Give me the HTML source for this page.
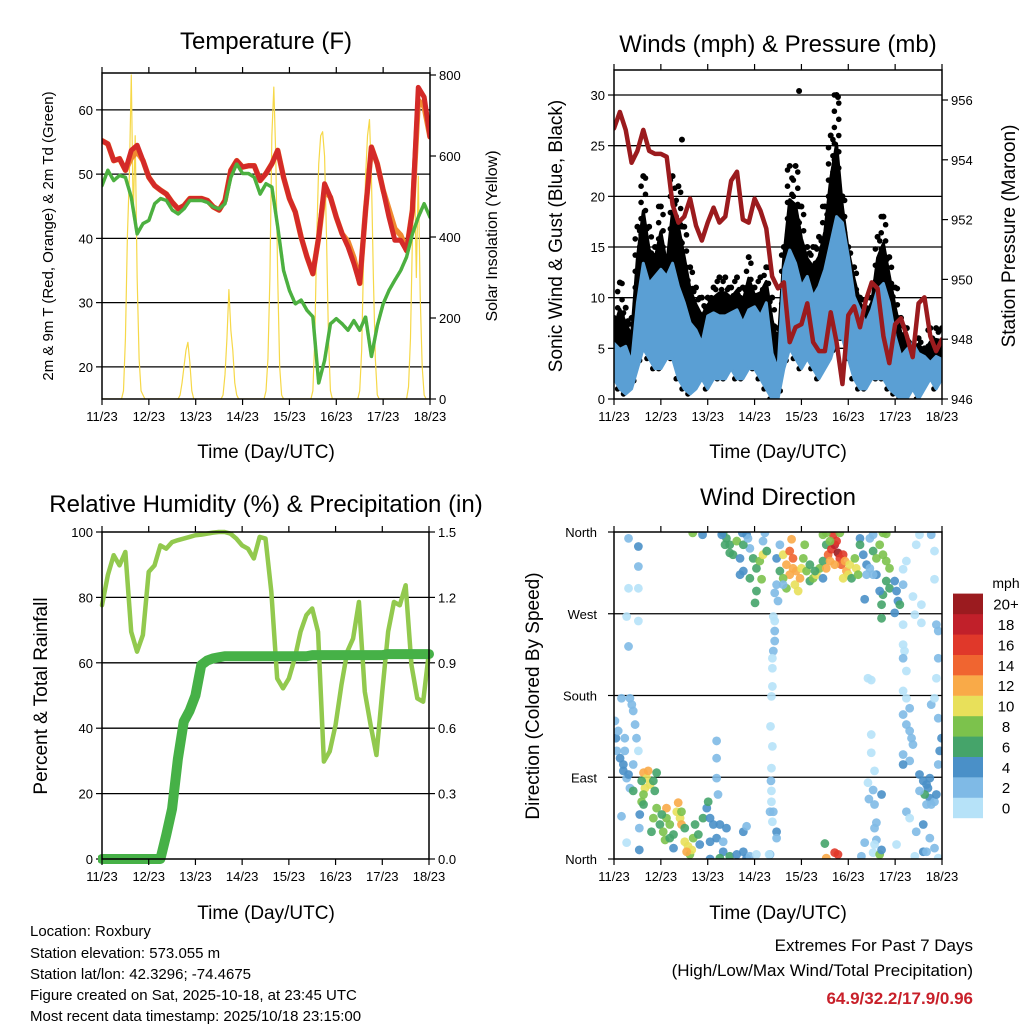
<!DOCTYPE html>
<html><head><meta charset="utf-8"><style>
html,body{margin:0;padding:0;background:#fff;}
svg{display:block;font-family:"Liberation Sans",Arial,sans-serif;}
</style></head><body>
<svg id="chart" width="1024" height="1024" viewBox="0 0 1024 1024" xmlns="http://www.w3.org/2000/svg">
<defs>
<clipPath id="c1"><rect x="102" y="73" width="328" height="326"/></clipPath>
<clipPath id="c2"><rect x="614" y="70" width="328" height="329"/></clipPath>
<clipPath id="c3"><rect x="98" y="528" width="336" height="336"/></clipPath>
<clipPath id="c4"><rect x="614" y="532" width="328" height="327"/></clipPath>
</defs>
<rect x="0" y="0" width="1024" height="1024" fill="#fff"/>
<text x="266" y="49" font-size="24" text-anchor="middle">Temperature (F)</text>
<text x="778" y="52" font-size="24" text-anchor="middle">Winds (mph) &amp; Pressure (mb)</text>
<text x="266" y="512" font-size="24" text-anchor="middle">Relative Humidity (%) &amp; Precipitation (in)</text>
<text x="778" y="505" font-size="24" text-anchor="middle">Wind Direction</text>
<text transform="translate(53,236) rotate(-90)" font-size="15" text-anchor="middle">2m &amp; 9m T (Red, Orange) &amp; 2m Td (Green)</text>
<text transform="translate(497,236) rotate(-90)" font-size="16" text-anchor="middle">Solar Insolation (Yellow)</text>
<text transform="translate(562,236) rotate(-90)" font-size="19" text-anchor="middle">Sonic Wind &amp; Gust (Blue, Black)</text>
<text transform="translate(1015,236) rotate(-90)" font-size="19" text-anchor="middle">Station Pressure (Maroon)</text>
<text transform="translate(47,696) rotate(-90)" font-size="19" text-anchor="middle">Percent &amp; Total Rainfall</text>
<text transform="translate(539,696) rotate(-90)" font-size="19" text-anchor="middle">Direction (Colored By Speed)</text>
<text x="266" y="458" font-size="19" text-anchor="middle">Time (Day/UTC)</text>
<text x="778" y="458" font-size="19" text-anchor="middle">Time (Day/UTC)</text>
<text x="266" y="919" font-size="19" text-anchor="middle">Time (Day/UTC)</text>
<text x="778" y="919" font-size="19" text-anchor="middle">Time (Day/UTC)</text>
<g font-size="15">
<text x="30" y="936">Location: Roxbury</text>
<text x="30" y="958">Station elevation: 573.055 m</text>
<text x="30" y="979">Station lat/lon: 42.3296; -74.4675</text>
<text x="30" y="1000">Figure created on Sat, 2025-10-18, at 23:45 UTC</text>
<text x="30" y="1021">Most recent data timestamp: 2025/10/18 23:15:00</text>
</g>
<text x="973" y="951" font-size="17" text-anchor="end">Extremes For Past 7 Days</text>
<text x="973" y="976" font-size="17" text-anchor="end">(High/Low/Max Wind/Total Precipitation)</text>
<text x="973" y="1004" font-size="17" font-weight="bold" fill="#c8202a" text-anchor="end">64.9/32.2/17.9/0.96</text>
<text x="1006" y="588" font-size="14" text-anchor="middle">mph</text>
</svg>
<script>
// ---------- data ----------
const dayLabels=["11/23","12/23","13/23","14/23","15/23","16/23","17/23","18/23"];
const tempRed=[55.2,54.7,52.1,52.4,50.6,53.7,54.5,52.1,49.5,48.2,47.5,46.9,45.6,44.6,45.1,46.2,46.2,46.2,45.9,44.9,44.4,45.9,50.6,52.1,51.1,51.3,51.3,49.0,50.1,51.6,53.7,49.5,46.2,44.1,40.2,37.1,34.5,40.2,48.5,46.4,43.3,40.7,38.7,36.1,33.0,44.4,54.2,51.6,47.5,43.3,39.7,39.7,38.1,44.4,63.5,62.0,55.8];
const tempOrange=[55.2,54.7,52.1,52.4,50.6,52.5,53.5,52.1,49.5,48.2,47.5,46.9,45.6,44.6,45.1,46.2,46.2,46.2,45.9,44.9,44.4,45.9,50.6,52.1,51.1,51.3,51.3,49.0,50.1,51.6,53.7,49.5,46.2,44.1,40.2,37.1,34.5,40.2,47.5,46.4,43.3,40.7,39.5,37.0,33.0,44.4,54.2,51.6,47.5,44.5,41.5,40.5,38.1,44.4,61.5,60.5,55.8];
const dewGreen=[48.2,50.6,49.0,49.8,49.5,46.4,40.7,42.3,42.8,45.4,46.2,45.9,44.4,43.8,44.6,45.9,45.9,45.9,45.6,44.9,44.6,45.4,49.5,51.6,50.1,50.1,49.5,46.9,48.5,48.0,41.8,35.0,31.9,29.8,30.4,28.8,27.8,17.5,21.0,26.7,27.5,26.7,25.7,27.2,25.7,27.8,21.6,26.4,29.8,31.9,33.5,35.0,37.1,40.7,43.3,45.4,43.3];
const solarDay0=[0,0,0,0,0,0,0,0,0,0,0,20,150,400,550,800,450,650,300,100,20,10,0,0];
const solarDay1=[0,0,0,0,0,0,0,0,0,0,0,0,0,0,0,0,10,40,80,120,140,90,20,0];
const solarDay2=[0,0,0,0,0,0,0,0,0,0,0,0,0,0,10,60,150,270,170,120,40,10,0,0];
const solarDay3=[0,0,0,0,0,0,0,0,0,0,0,0,20,100,300,650,770,600,300,80,10,0,0,0];
const solarDay4=[0,0,0,0,0,0,0,0,0,0,0,0,20,150,400,580,650,660,600,400,150,20,0,0];
const solarDay5=[0,0,0,0,0,0,0,0,0,0,0,0,20,120,350,550,650,690,550,300,100,10,0,0];
const solarDay6=[0,0,0,0,0,0,0,0,0,0,0,0,0,30,150,400,590,300,550,250,80,10,0,0];
const windLow=[2,1,0.5,1,3,5,4,3,3,4,4,2,1,0.5,1,2,1,2,2,2,3,2,2,3,3,2,1,0,0,3,5,4,3,4,3,2,3,4,6,6,4,2,1,1,2,2,2,1,0.5,0,0,1,0,1,2,1,2];
const windHigh=[5.5,4.9,5.2,3.6,9.5,13.4,11.4,12.1,12.8,12.1,13.4,11.1,9.5,7.5,6.8,5.5,8.2,8.5,8.2,8.2,8.5,8.8,7.5,8.8,9.1,8.2,9.5,4.5,2.9,12.8,14.7,13.4,11.1,12.1,10.1,11.1,12.8,15.4,18.0,17.4,14.1,10.1,8.8,7.5,8.8,10.8,11.4,9.5,6.2,4.2,4.9,5.5,4.5,4.2,3.6,4.2,3.9];
const gustMax=[8,11.5,9,8,17,22,17,15,19,14,22,21,17,13,11,10,10,11,12,12,11,12,11,14,11,12,13,10,7,15,23,23,19,15,15,16,19,26,30,20,15,13,10,9,10,16,18,14,11,8,7,5,6,5,7,7,7];
const gustExtraDays=[3.95,1.45,4.78];
const gustExtraVals=[30.4,25.6,29.8];
const pressure=[955.05,955.6,955.0,953.9,954.3,955.0,954.3,954.2,954.2,954.1,952.5,951.9,952.1,952.7,951.8,951.3,951.9,952.4,951.9,952.1,953.3,953.6,952.0,951.9,952.7,952.3,951.7,950.1,949.7,949.9,947.9,948.4,948.5,949.2,947.9,947.6,947.6,948.9,947.9,946.5,948.8,949.1,948.4,949.3,949.9,949.7,948.1,947.2,948.5,948.7,948.1,947.4,949.2,949.4,948.1,947.6,948.0];
const humidity=[77.6,86.8,92.9,89.8,93.9,69.5,63.4,68.5,87.8,89.8,95.9,94.9,96.9,97.5,98.0,98.5,99.0,99.2,99.5,99.8,100,100,99.5,98.0,95.9,94.9,91.9,98.5,98.0,81.7,55.2,52.2,55.2,61.3,69.5,74.6,76.6,69.5,29.8,32.9,41.0,53.2,63.4,67.4,78.6,51.2,41.0,31.8,51.2,69.5,78.6,77.6,83.7,59.3,49.1,48.1,63.4];
const precip=[0,0,0,0,0,0,0,0,0,0,0,0.11,0.23,0.46,0.63,0.68,0.75,0.89,0.91,0.92,0.925,0.93,0.93,0.93,0.93,0.93,0.93,0.93,0.93,0.93,0.93,0.93,0.93,0.93,0.93,0.93,0.935,0.935,0.935,0.935,0.935,0.935,0.935,0.935,0.935,0.935,0.935,0.935,0.935,0.94,0.94,0.94,0.94,0.94,0.94,0.94,0.94];
const dirDays=[0.02,0.04,0.06,0.13,0.20,0.23,0.16,0.34,0.41,0.45,0.48,0.20,0.27,0.34,0.41,0.31,0.52,0.09,0.23,0.38,0.27,0.16,0.54,0.54,0.31,0.52,0.52,0.31,0.52,0.27,0.52,0.31,
0.63,0.70,0.66,0.63,0.77,0.73,0.59,0.84,0.91,0.87,0.41,0.59,0.55,0.63,
0.84,0.91,0.98,1.05,1.12,1.12,1.19,1.27,1.34,1.37,1.41,1.44,1.44,1.51,1.09,1.19,1.02,0.80,1.27,1.51,1.58,1.62,1.69,1.73,1.80,1.83,1.66,1.55,
1.90,1.98,2.01,2.05,2.12,2.19,2.05,2.19,2.19,2.19,2.22,2.26,2.33,2.40,2.33,2.05,2.26,2.47,2.62,2.76,2.83,2.90,2.76,2.83,3.04,3.33,
2.33,2.40,2.47,2.54,2.62,2.69,2.76,2.83,2.90,2.97,3.04,3.11,3.18,3.04,3.01,2.90,2.69,3.18,3.26,3.15,2.37,2.47,2.76,2.86,3.22,2.30,
3.47,3.54,3.61,3.68,3.75,3.79,3.82,3.75,3.86,3.89,3.93,4.00,4.04,4.07,3.97,4.11,3.47,3.43,3.50,3.61,3.68,3.82,3.61,3.54,
4.18,4.25,4.32,4.39,4.46,4.18,4.29,4.46,4.53,4.46,
4.57,4.64,4.71,4.75,4.78,4.82,4.89,4.85,4.93,4.96,5.03,5.00,4.89,4.71,4.61,4.53,4.68,4.53,4.61,4.82,5.07,5.14,5.17,5.21,
5.25,5.25,5.32,5.39,5.39,5.46,5.46,5.53,5.60,5.67,5.74,5.81,5.88,5.81,5.88,5.74,5.71,5.67,5.71,5.99,6.03,6.06,5.99,6.10,5.60,5.53,5.74,5.35,5.53,
6.17,6.20,6.17,6.24,6.17,6.24,6.31,6.17,6.24,6.31,6.35,6.38,6.17,6.31,6.17,6.52,6.60,6.67,6.70,6.74,6.74,6.63,6.52,6.67,6.77,6.84,6.88,6.24,6.31,6.45,6.60,6.74,6.42,6.60,6.84,6.92,6.95,6.99,6.92,6.77,6.88,6.92,6.88,6.92,6.42,6.56,6.17,6.24,6.45,6.52,6.77,6.84,6.84,6.56,6.38,6.17,6.17,6.84,6.03,6.92,6.67,
3.40,3.43,3.43,3.43,3.40,3.38,3.38,3.38,3.36,3.34,3.38,3.36,3.35,3.36,3.36,3.40,3.38,3.47,3.47,3.31,3.33,
5.42,5.49,5.49,5.49,5.56,5.42,5.53,5.44,5.56,5.71,5.60,5.56,5.60,5.56,5.53,5.67,5.71,5.35,5.28,
4.50,4.53,4.71,4.78,1.68,1.89,2.74,5.81];
const dirDegs=[152,133,119,111,104,119,177,177,163,148,133,97,89,78,104,93,119,141,133,170,18,47,10,34,353,344,322,298,298,267,262,234,
95,89,78,71,82,97,86,86,95,75,75,63,49,60,
45,56,38,30,45,56,38,27,52,62,45,38,52,34,21,23,49,30,12,19,14,5,23,38,27,16,10,8,
45,56,63,45,38,23,19,111,130,89,71,38,19,34,8,0,1,3,5,8,1,3,30,36,5,5,
359,353,346,335,350,331,317,357,342,331,320,328,335,295,282,309,313,350,339,308,346,337,346,353,359,357,
331,317,335,324,339,352,331,313,302,317,295,320,331,346,309,317,302,293,284,309,298,320,302,346,
306,309,313,320,328,324,317,357,346,309,
335,341,346,350,337,331,335,324,328,317,324,313,309,324,328,320,357,359,350,359,309,331,320,313,
353,346,335,324,313,353,320,339,331,346,335,328,320,306,298,291,280,295,265,306,295,284,271,280,313,357,359,286,313,
236,229,221,207,185,177,166,159,148,141,133,126,115,108,104,93,86,82,78,89,67,71,75,60,60,63,71,52,45,30,38,23,3,8,12,104,119,133,155,170,199,221,258,251,269,260,258,328,346,357,357,339,308,280,289,302,319,177,16,1,8,
267,262,251,240,229,221,210,190,179,146,124,100,86,75,63,52,41,30,23,5,52,
199,197,137,117,97,84,76,66,60,71,40,34,21,16,7,5,10,18,3,
17,1,7,5,359,357,359,358];
const dirSpeeds=[2,4,3,4,4,2,2,2,2,2,3,5,3,2,3,4,1,2,3,2,1,2,4,2,2,4,2,1,1,1,1,3,
12,11,10,9,10,12,6,6,6,6,6,8,4,7,
8,8,7,8,9,12,8,7,10,12,11,13,9,7,8,6,7,6,4,10,10,9,8,6,6,5,11,12,
6,5,6,4,4,4,4,3,2,2,2,4,3,5,4,4,6,6,4,4,4,3,4,3,1,2,
6,7,6,6,8,5,4,4,3,7,6,8,10,6,6,7,4,3,6,8,6,6,6,3,3,5,
4,6,10,12,14,12,14,12,11,12,10,10,8,9,13,8,3,3,3,8,8,13,2,2,
6,8,10,8,7,7,6,8,7,4,
14,16,18,16,20,17,16,14,13,12,10,10,11,13,12,13,16,8,9,8,6,8,10,8,
4,6,4,4,3,3,2,6,8,8,9,8,8,7,6,6,6,4,6,4,5,5,4,6,4,2,8,4,3,
1,1,3,1,1,1,2,3,2,2,3,2,3,2,4,4,4,4,5,4,4,6,3,3,2,2,4,2,1,3,4,2,1,4,2,3,4,4,2,3,1,2,2,2,1,1,1,1,1,1,3,1,1,1,1,2,1,1,1,1,2,
1,1,2,3,3,1,1,1,1,1,1,1,2,1,1,2,1,4,3,1,3,
1,1,1,1,1,1,3,3,2,4,2,3,2,1,1,8,4,2,2,
6,12,16,17,8,4,4,8];
const speedBinLabels=["0","2","4","6","8","10","12","14","16","18","20+"];
const speedColors=["#b6e2f8","#7fbae6","#4a90c8","#45a46a","#7cc24c","#e8e05a","#f9aa48","#f06530","#e0382a","#c1202a","#9b1b1f"];
const tempTicks=[20,30,40,50,60];
const solarTicks=[0,200,400,600,800];
const windTicks=[0,5,10,15,20,25,30];
const pressTicks=[946,948,950,952,954,956];
const rhTicks=[0,20,40,60,80,100];
const rainTicks=["0.0","0.3","0.6","0.9","1.2","1.5"];
const dirTickLabels=["North","East","South","West","North"];
const STEP=0.125;

// ---------- helpers ----------
const NS="http://www.w3.org/2000/svg";
const svg=document.getElementById("chart");
function mk(tag,parent){const e=document.createElementNS(NS,tag);(parent||svg).appendChild(e);return e;}
function attrs(e,o){for(const k in o)e.setAttribute(k,o[k]);return e;}

// ---------- scales ----------
const P1={x0:102,x1:430,y0:73,y1:399};
const P2={x0:614,x1:942,y0:70,y1:399};
const P3={x0:102,x1:429,y0:532,y1:859};
const P4={x0:614,x1:942,y0:532,y1:859};
const x1s=d=>P1.x0+d*(P1.x1-P1.x0)/7;
const tY=t=>399-(t-15)*6.425;
const sY=w=>399-w*0.405;
const x2s=d=>P2.x0+d*(P2.x1-P2.x0)/7;
const wY=v=>399-v*10.133;
const pY=p=>399-(p-946)*29.9;
const x3s=d=>P3.x0+d*(P3.x1-P3.x0)/7;
const rY=r=>859-r*3.27;
const qY=q=>859-q/1.5*327;
const x4s=d=>P4.x0+d*(P4.x1-P4.x0)/7;
const dY=g=>859-g/360*327;

function hgrid(y,x0,x1,name){
  const l=mk("line");attrs(l,{x1:x0,x2:x1,y1:y,y2:y,stroke:"#000","stroke-width":1.3});
  
  
}
function tick(x1,y1,x2,y2,name){
  const l=mk("line");attrs(l,{x1:x1,y1:y1,x2:x2,y2:y2,stroke:"#000","stroke-width":1.2});
  
  
}
function label(x,y,s,anchor,name,size){
  const t=mk("text");attrs(t,{x:x,y:y,"font-size":size||13,"text-anchor":anchor});t.textContent=s;
  
  
}
function frame(P,name){
  const r=mk("rect");attrs(r,{x:P.x0,y:P.y0,width:P.x1-P.x0,height:P.y1-P.y0,fill:"none",stroke:"#000","stroke-width":1.5});
  
  
}
function xAxis(P,xs,prefix){
  dayLabels.forEach((s,i)=>{
    const x=xs(i);
    tick(x,P.y1,x,P.y1+6,prefix+"-x-tick");
    tick(x,P.y0,x,P.y0-6,prefix+"-top-tick");
    label(x,P.y1+22,s,"middle",prefix+"-x-tick-label",13);
  });
}
function pathFrom(xs,vals,xf,yf){
  return vals.map((v,i)=>(i?"L":"M")+xf(xs[i]).toFixed(2)+","+yf(v).toFixed(2)).join("");
}
function line(d,color,w,clip,name){
  const p=mk("path");attrs(p,{d:d,fill:"none",stroke:color,"stroke-width":w,"stroke-linejoin":"round","stroke-linecap":"round","clip-path":"url(#"+clip+")"});
  
  
  return p;
}
const times=tempRed.map((_,i)=>i*STEP);

// ---------- Panel 1: temperature ----------
tempTicks.forEach(t=>{hgrid(tY(t),P1.x0,P1.x1,"temperature-gridline");tick(P1.x0-6,tY(t),P1.x0,tY(t),"temperature-y-tick");label(P1.x0-9,tY(t)+5,String(t),"end","temperature-y-tick-label",13);});
solarTicks.forEach(w=>{tick(P1.x1,sY(w),P1.x1+6,sY(w),"solar-y-tick");label(P1.x1+9,sY(w)+5,String(w),"start","solar-y-tick-label",13);});
const solarAll=[].concat(solarDay0,solarDay1,solarDay2,solarDay3,solarDay4,solarDay5,solarDay6,[0]);
const solarTimes=solarAll.map((_,i)=>i/24);
line(pathFrom(solarTimes,solarAll,x1s,sY),"#f6d848",1.2,"c1","solar-line");
line(pathFrom(times,tempOrange,x1s,tY),"#f08a30",5.5,"c1","temp-9m-line");
line(pathFrom(times,tempRed,x1s,tY),"#d42a28",5,"c1","temp-2m-line");
const dl=line(pathFrom(times,dewGreen,x1s,tY),"#4cb040",3.5,"c1","dewpoint-line");
dl.setAttribute("stroke-dasharray","3 1");
frame(P1,"temperature-plot-frame");
xAxis(P1,x1s,"temperature");

// ---------- Panel 2: winds ----------
windTicks.forEach(v=>{if(v>0)hgrid(wY(v),P2.x0,P2.x1,"wind-gridline");tick(P2.x0-6,wY(v),P2.x0,wY(v),"wind-y-tick");label(P2.x0-9,wY(v)+5,String(v),"end","wind-y-tick-label",13);});
pressTicks.forEach(p=>{tick(P2.x1,pY(p),P2.x1+6,pY(p),"pressure-y-tick");label(P2.x1+9,pY(p)+5,String(p),"start","pressure-y-tick-label",13);});
const gustG=mk("g");attrs(gustG,{"clip-path":"url(#c2)"});


// dense core of gust cloud: area between sustained top and partway to gust max
const coreTop=gustMax.map((g,i)=>windHigh[i]+(g-windHigh[i])*0.6);
const coreD=pathFrom(times,coreTop,x2s,wY)+windHigh.slice().reverse().map((v,j)=>"L"+x2s(times[times.length-1-j]).toFixed(2)+","+wY(v).toFixed(2)).join("")+"Z";
const core=mk("path",gustG);attrs(core,{d:coreD,fill:"#000",stroke:"#000","stroke-width":3,"stroke-linejoin":"round"});


gustMax.forEach((g,i)=>{
  let k=0;
  for(let v=windLow[i];v<=g+0.01;v+=0.8){
    const off=(k%2?2.2:-2.2);k++;
    const c=mk("circle",gustG);attrs(c,{cx:x2s(times[i])+off,cy:wY(v),r:2.8,fill:"#000"});
    
    
  }
  const c2=mk("circle",gustG);attrs(c2,{cx:x2s(times[i]),cy:wY(g),r:3,fill:"#000"});
  
  
});
gustExtraDays.forEach((d,i)=>{
  const c=mk("circle",gustG);attrs(c,{cx:x2s(d),cy:wY(gustExtraVals[i]),r:3,fill:"#000"});
  
  
});
const bandD=pathFrom(times,windHigh,x2s,wY)+windLow.slice().reverse().map((v,j)=>"L"+x2s(times[times.length-1-j]).toFixed(2)+","+wY(v).toFixed(2)).join("")+"Z";
const band=mk("path");attrs(band,{d:bandD,fill:"#5a9fd4",stroke:"#5a9fd4","stroke-width":3,"stroke-linejoin":"round","clip-path":"url(#c2)"});


line(pathFrom(times,pressure,x2s,pY),"#9b1b1e",4.5,"c2","pressure-line");
frame(P2,"winds-plot-frame");
xAxis(P2,x2s,"winds");

// ---------- Panel 3: humidity ----------
rhTicks.forEach((r,i)=>{if(r>0&&r<100)hgrid(rY(r),P3.x0,P3.x1,"humidity-gridline");tick(P3.x0-6,rY(r),P3.x0,rY(r),"humidity-y-tick");label(P3.x0-9,rY(r)+5,String(r),"end","humidity-y-tick-label",13);});
rainTicks.forEach(s=>{const q=parseFloat(s);tick(P3.x1,qY(q),P3.x1+6,qY(q),"rain-y-tick");label(P3.x1+9,qY(q)+5,s,"start","rain-y-tick-label",13);});
line(pathFrom(times,humidity,x3s,rY),"#92c94e",4.5,"c3","humidity-line");
line(pathFrom(times,precip,x3s,qY),"#46b147",10,"c3","precipitation-line");
frame(P3,"humidity-plot-frame");
xAxis(P3,x3s,"humidity");

// ---------- Panel 4: wind direction ----------
dirTickLabels.forEach((s,i)=>{const g=i*90;const y=dY(g);if(i>0&&i<4)hgrid(y,P4.x0,P4.x1,"direction-gridline");tick(P4.x0-6,y,P4.x0,y,"direction-y-tick");label(P4.x0-17,y+5,s,"end","direction-y-tick-label",13);});
const dirG=mk("g");attrs(dirG,{"clip-path":"url(#c4)"});


dirDays.forEach((d,i)=>{
  const sp=dirSpeeds[i];
  const bin=Math.min(10,Math.floor(sp/2));
  const c=mk("circle",dirG);attrs(c,{cx:x4s(d),cy:dY(dirDegs[i]),r:4.4,fill:speedColors[bin],"fill-opacity":0.9});
  
  
});
frame(P4,"direction-plot-frame");
xAxis(P4,x4s,"direction");

// colorbar
speedBinLabels.forEach((s,i)=>{
  const y=818-(i+1)*20.4;
  const r=mk("rect");attrs(r,{x:953,y:y,width:30,height:20.6,fill:speedColors[i]});
  
  
  label(1006,y+16,s,"middle","colorbar-label",15);
});
</script>
</body></html>
